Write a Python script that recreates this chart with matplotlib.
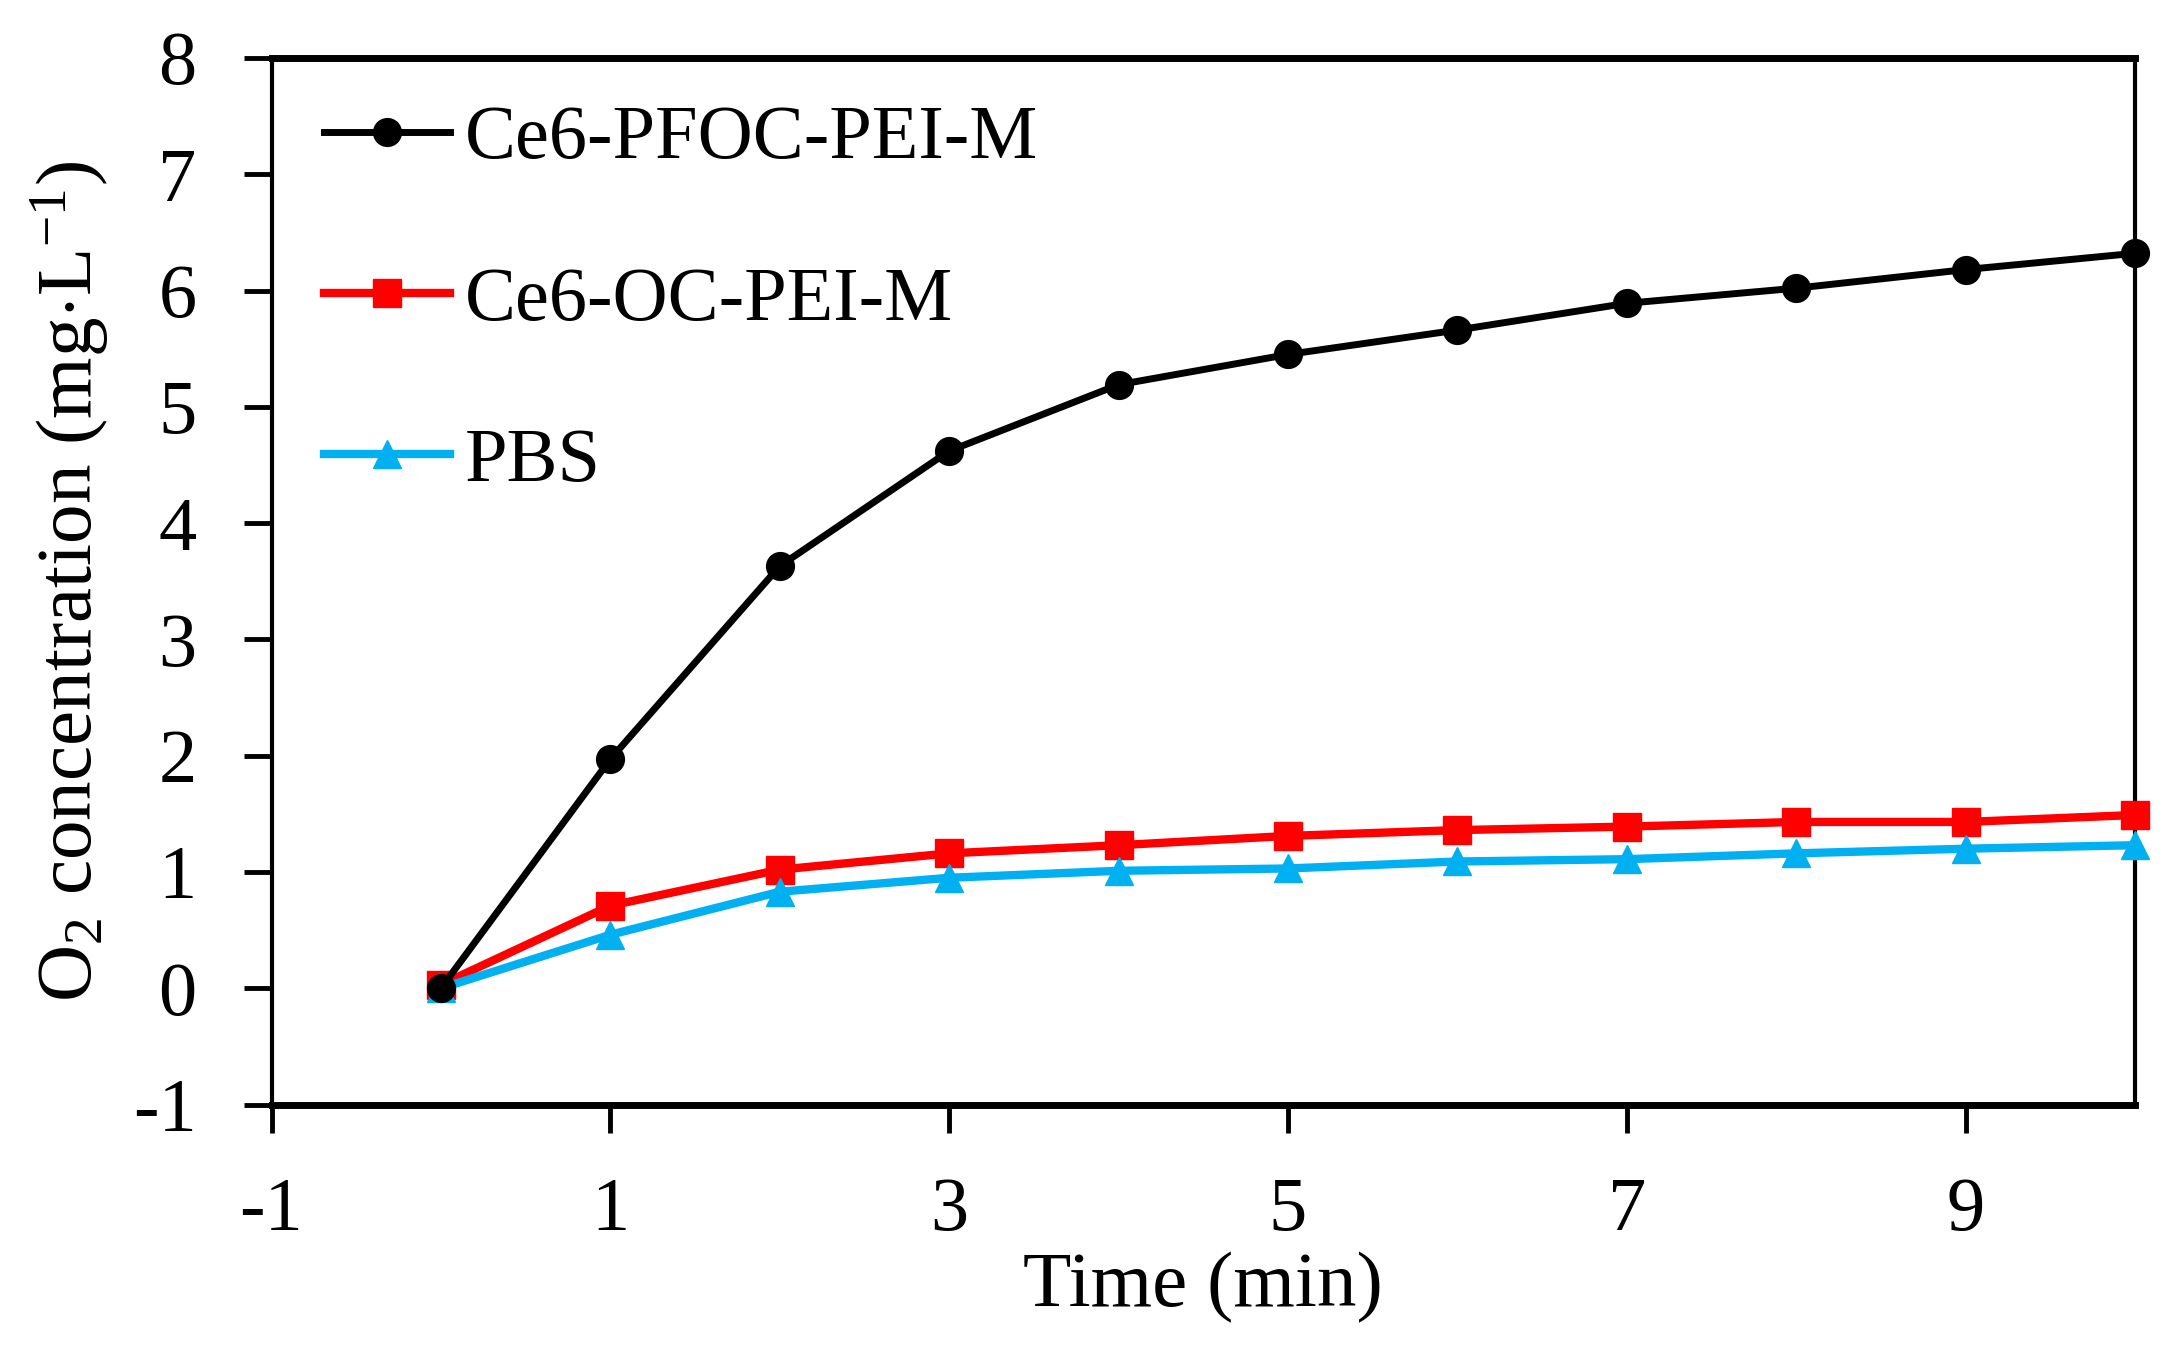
import matplotlib
matplotlib.use("Agg")
import matplotlib.pyplot as plt

plt.rcParams['font.family'] = ['Liberation Serif', 'DejaVu Serif']
plt.rcParams['mathtext.fontset'] = 'custom'
plt.rcParams['mathtext.rm'] = 'Liberation Serif'
plt.rcParams['mathtext.it'] = 'Liberation Serif:italic'
plt.rcParams['axes.unicode_minus'] = False

# datos
time = [0, 1, 2, 3, 4, 5, 6, 7, 8, 9, 10]
pfoc = [0.00, 1.97, 3.63, 4.62, 5.19, 5.45, 5.66, 5.89, 6.02, 6.18, 6.32]
oc = [0.03, 0.71, 1.02, 1.16, 1.23, 1.31, 1.36, 1.39, 1.43, 1.43, 1.49]
pbs = [0.00, 0.46, 0.83, 0.95, 1.01, 1.03, 1.09, 1.11, 1.16, 1.20, 1.23]
labels = ['Ce6-PFOC-PEI-M', 'Ce6-OC-PEI-M', 'PBS']
xticks = [-1, 1, 3, 5, 7, 9]
yticks = [-1, 0, 1, 2, 3, 4, 5, 6, 7, 8]

fs = 55
fs_lab = 57

fig = plt.figure(figsize=(21.72, 13.47), dpi=100)
ax = fig.add_axes([0.125, 0.180, 0.858, 0.777])

ax.plot(time, pfoc, color='black', marker='o', markersize=20, linewidth=5, label=labels[0], clip_on=False, zorder=4)
ax.plot(time, oc, color='#FF0000', marker='s', markersize=20, linewidth=6, label=labels[1], clip_on=False, zorder=3)
ax.plot(time, pbs, color='#00B0F0', marker='^', markersize=20, linewidth=6, label=labels[2], clip_on=False, zorder=3)

ax.set_xlim(-1, 10)
ax.set_ylim(-1, 8)
ax.set_xticks(xticks)
ax.set_yticks(yticks)
ax.tick_params(axis='both', direction='out', length=20, width=3.5, labelsize=fs)
ax.tick_params(axis='y', pad=34)
ax.tick_params(axis='x', pad=32)

for s in ['top', 'bottom']:
    ax.spines[s].set_linewidth(5)
for s in ['left', 'right']:
    ax.spines[s].set_linewidth(3)

ax.set_xlabel('Time (min)', fontsize=fs_lab, labelpad=4)
ax.set_ylabel(r'O$_2$ concentration (mg$\cdot$L$^{-1}$)', fontsize=fs_lab, labelpad=16)

ax.legend(loc='upper left', frameon=False, fontsize=fs, handlelength=1.65,
          handletextpad=0.2, labelspacing=1.2, borderaxespad=0, borderpad=0,
          bbox_to_anchor=(0.028, 0.955))

fig.savefig('out.png', dpi=100)
